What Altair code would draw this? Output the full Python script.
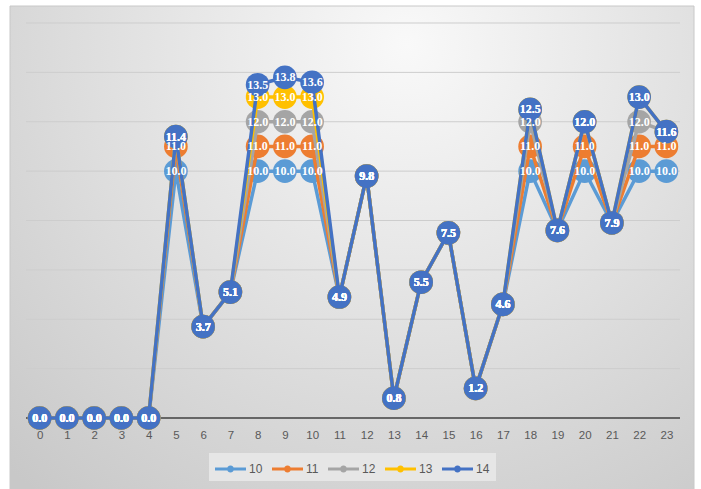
import altair as alt
import pandas as pd

hours = list(range(24))
series_names = ["10", "11", "12", "13", "14"]
series_colors = ["#5B9BD5", "#ED7D31", "#A5A5A5", "#FFC000", "#4472C4"]

s10 = [0.0, 0.0, 0.0, 0.0, 0.0, 10.0, 3.7, 5.1, 10.0, 10.0, 10.0, 4.9, 9.8, 0.8, 5.5, 7.5, 1.2, 4.6, 10.0, 7.6, 10.0, 7.9, 10.0, 10.0]
s11 = [0.0, 0.0, 0.0, 0.0, 0.0, 11.0, 3.7, 5.1, 11.0, 11.0, 11.0, 4.9, 9.8, 0.8, 5.5, 7.5, 1.2, 4.6, 11.0, 7.6, 11.0, 7.9, 11.0, 11.0]
s12 = [0.0, 0.0, 0.0, 0.0, 0.0, 11.4, 3.7, 5.1, 12.0, 12.0, 12.0, 4.9, 9.8, 0.8, 5.5, 7.5, 1.2, 4.6, 12.0, 7.6, 12.0, 7.9, 12.0, 11.6]
s13 = [0.0, 0.0, 0.0, 0.0, 0.0, 11.4, 3.7, 5.1, 13.0, 13.0, 13.0, 4.9, 9.8, 0.8, 5.5, 7.5, 1.2, 4.6, 12.5, 7.6, 12.0, 7.9, 13.0, 11.6]
s14 = [0.0, 0.0, 0.0, 0.0, 0.0, 11.4, 3.7, 5.1, 13.5, 13.8, 13.6, 4.9, 9.8, 0.8, 5.5, 7.5, 1.2, 4.6, 12.5, 7.6, 12.0, 7.9, 13.0, 11.6]
grid_values = [2, 4, 6, 8, 10, 12, 14, 16]
baseline_values = [0]

all_series = [s10, s11, s12, s13, s14]
rows = []
for name, vals in zip(series_names, all_series):
    for h, v in zip(hours, vals):
        rows.append({"series": name, "hour": h, "value": v})
df = pd.DataFrame(rows)

W, H = 654, 395
y_scale = alt.Scale(domain=[0, 16])
x_enc = alt.X("hour:O", sort=hours,
              scale=alt.Scale(type="point", padding=0.5),
              axis=alt.Axis(title=None, labelAngle=0, domain=False, ticks=False, grid=False,
                            labelPadding=11, labelColor="#595959", labelFontSize=11.5,
                            labelFont="Liberation Sans", zindex=1))

bg = alt.Chart(pd.DataFrame({"a": [0]})).mark_rect(
    fill={"gradient": "radial", "x1": 0.58, "y1": 0.2, "r1": 0.0,
          "x2": 0.58, "y2": 0.2, "r2": 0.85,
          "stops": [{"offset": 0, "color": "#f9f9f9"}, {"offset": 1, "color": "#c8c8c8"}]},
    stroke="#c8c8c8", strokeWidth=1
).encode(x=alt.value(-16), x2=alt.value(668), y=alt.value(-17), y2=alt.value(470))

grid = alt.Chart(pd.DataFrame({"g": grid_values})).mark_rule(color="#cdcdcd", strokeWidth=1).encode(
    y=alt.Y("g:Q", scale=y_scale, axis=None))
base = alt.Chart(pd.DataFrame({"g": baseline_values})).mark_rule(color="#404040", strokeWidth=1.6).encode(
    y=alt.Y("g:Q", scale=y_scale, axis=None))

color_scale = alt.Scale(domain=series_names, range=series_colors)
legend_path = "M-1,-0.16H2.1V0.16H-1Z M0.9,0A0.35,0.35,0,1,1,0.2,0A0.35,0.35,0,1,1,0.9,0Z"

layers = [bg, grid, base]
for name, col in zip(series_names, series_colors):
    src = alt.Chart(df).transform_filter(alt.datum.series == name)
    line = src.mark_line(strokeWidth=3.5, stroke=col).encode(
        x=x_enc,
        y=alt.Y("value:Q", scale=y_scale, axis=None),
    )
    pts = src.mark_circle(size=560, opacity=1).encode(
        x=x_enc,
        y=alt.Y("value:Q", scale=y_scale, axis=None),
        fill=alt.Fill("series:N", scale=color_scale,
                      legend=alt.Legend(title=None, orient="none", legendX=183, legendY=430,
                                        direction="horizontal", symbolType=legend_path,
                                        symbolSize=400, symbolStrokeWidth=0, symbolOpacity=1,
                                        labelFontSize=12, labelColor="#595959",
                                        labelFont="Liberation Sans", labelOffset=14,
                                        fillColor="#e6e6e6", padding=6, columnPadding=9,
                                        zindex=1)),
    )
    layers += [line, pts]

labels = alt.Chart(df).mark_text(font="Liberation Serif", fontWeight="bold", fontSize=12,
                                 color="white", align="center", baseline="middle").encode(
    x=x_enc,
    y=alt.Y("value:Q", scale=y_scale, axis=None),
    text=alt.Text("value:Q", format=".1f"),
)
layers.append(labels)

chart = alt.layer(*layers).properties(
    width=W, height=H,
    autosize=alt.AutoSizeParams(type="none"),
    padding={"left": 26, "top": 23, "right": 21, "bottom": 71},
    background="white",
).configure_view(stroke=None)

chart.save("out.html", embed_options={"renderer": "svg", "actions": False})
